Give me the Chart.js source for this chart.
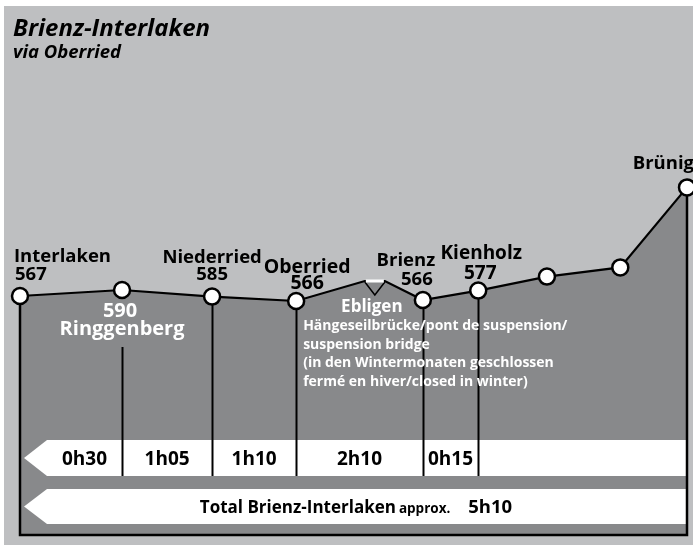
<!DOCTYPE html>
<html>
<head>
<meta charset="utf-8">
<script src="https://cdn.jsdelivr.net/npm/chart.js@4/dist/chart.umd.min.js"></script>
<style>
html,body{margin:0;padding:0;background:#fff;}
canvas{display:block;}
</style>
</head>
<body>
<canvas id="c" width="693" height="545" style="width:693px;height:545px"></canvas>
<script>
// ---- data ----
const title = 'Brienz-Interlaken';
const subtitle = 'via Oberried';
const distances = [0, 15.3, 28.8, 41.4, 51.7, 54.7, 60.4, 68.7, 79.0, 90.0, 100];
const profile   = [59.75, 61.25, 59.6, 58.5, 63.5, 63.5, 58.75, 61.1, 64.6, 66.9, 86.9];
const stationNames = ['Interlaken', 'Ringgenberg', 'Niederried', 'Oberried', '', '', 'Brienz', 'Kienholz', '', '', 'Brünig'];
const altitudes    = ['567', '590', '585', '566', '', '', '566', '577', '', '', ''];
const bridgeStart = 4;                 // bridge spans points 4..5
const bridgeName = 'Ebligen';
const bridgeNote = ['Hängeseilbrücke/pont de suspension/', 'suspension bridge', '(in den Wintermonaten geschlossen', 'fermé en hiver/closed in winter)'];
const legStations = [0, 1, 2, 3, 6, 7];
const legTimes = ['0h30', '1h05', '1h10', '2h10', '0h15'];
const totalLabel = 'Total Brienz-Interlaken';
const approxLabel = 'approx.';
const totalTime = '5h10';

// ---- styles ----
const C_PANEL = '#bebfc1', C_FILL = '#88898b';
const FONT = '"Open Sans", "Noto Sans", sans-serif';
// label placement relative to each point (px)
const labelStyle = {
  0:  {nameDx: -6, nameDy: -34, altDx: -5, altDy: -16, align: 'left', color: '#000', size: 18.5},
  1:  {nameDx: 0, nameDy: 45, altDx: -2, altDy: 27, align: 'center', color: '#fff', lineStart: 57, size: 20},
  2:  {nameDx: 0, nameDy: -34, altDx: 0, altDy: -17, align: 'center', color: '#000', size: 18.5},
  3:  {nameDx: 11, nameDy: -28, altDx: 11, altDy: -12, align: 'center', color: '#000', size: 19.5},
  6:  {nameDx: -17, nameDy: -34, altDx: -6, altDy: -15, align: 'center', color: '#000', size: 18.5},
  7:  {nameDx: 3, nameDy: -32, altDx: 2, altDy: -12, align: 'center', color: '#000', size: 19},
  10: {nameDx: 7, nameDy: -18, altDx: 0, altDy: 0, align: 'right', color: '#000', size: 18.5}
};

const bgPlugin = {
  id: 'bg',
  beforeDraw(chart) {
    const c = chart.ctx;
    c.save();
    c.fillStyle = '#fff';
    c.fillRect(0, 0, chart.width, chart.height);
    c.fillStyle = C_PANEL;
    c.fillRect(4, 6, chart.width - 4, chart.height - 6);
    c.fillStyle = '#000';
    c.textAlign = 'left';
    c.textBaseline = 'alphabetic';
    c.font = 'italic 700 24px ' + FONT;
    c.fillText(title, 13, 36);
    c.font = 'italic 700 18.5px ' + FONT;
    c.fillText(subtitle, 13, 58);
    c.restore();
  }
};

function arrowBar(c, xTip, xBody, xEnd, yTop, yBot) {
  c.beginPath();
  c.moveTo(xBody, yTop);
  c.lineTo(xEnd, yTop);
  c.lineTo(xEnd, yBot);
  c.lineTo(xBody, yBot);
  c.lineTo(xTip, (yTop + yBot) / 2);
  c.closePath();
  c.fill();
}

const overlayPlugin = {
  id: 'overlay',
  beforeDatasetsDraw(chart) {
    const c = chart.ctx, a = chart.chartArea;
    const xs = chart.scales.x, ys = chart.scales.y;
    const px = i => xs.getPixelForValue(distances[i]);
    const py = i => ys.getPixelForValue(profile[i]);
    const last = distances.length - 1;
    c.save();
    // arrow bars
    const b1t = a.bottom - 95, b1b = a.bottom - 59, b2t = a.bottom - 46, b2b = a.bottom - 11;
    const tip = a.left + 4, body = a.left + 27;
    c.fillStyle = '#fff';
    arrowBar(c, tip, body, a.right, b1t, b1b);
    arrowBar(c, tip, body, a.right, b2t, b2b);
    // vertical lines
    c.strokeStyle = '#000';
    c.lineWidth = 2;
    legStations.slice(1).forEach(i => {
      const st = labelStyle[i] && labelStyle[i].lineStart ? labelStyle[i].lineStart : 0;
      c.beginPath();
      c.moveTo(Math.round(px(i)) + 0.5, py(i) + st);
      c.lineTo(Math.round(px(i)) + 0.5, b1b);
      c.stroke();
    });
    // frame
    c.lineWidth = 2.5;
    c.beginPath();
    c.moveTo(px(0), py(0));
    c.lineTo(px(0), a.bottom);
    c.lineTo(px(last), a.bottom);
    c.lineTo(px(last), py(last));
    c.stroke();
    // bridge V symbol
    const bx0 = px(bridgeStart), bx1 = px(bridgeStart + 1), by = py(bridgeStart);
    c.lineWidth = 1.5;
    c.beginPath();
    c.moveTo(bx0, by + 1);
    c.lineTo((bx0 + bx1) / 2, by + 14);
    c.lineTo(bx1, by + 1);
    c.stroke();
    // leg times
    c.fillStyle = '#000';
    c.textAlign = 'center';
    c.textBaseline = 'alphabetic';
    c.font = '700 19px ' + FONT;
    for (let k = 0; k < legTimes.length; k++) {
      const x0 = Math.max(px(legStations[k]), body), x1 = px(legStations[k + 1]);
      c.fillText(legTimes[k], (x0 + x1) / 2, (b1t + b1b) / 2 + 7);
    }
    // total
    const ty = (b2t + b2b) / 2 + 6.5;
    const f1 = '700 17px ' + FONT, f2 = '700 13.5px ' + FONT, f3 = '700 18.5px ' + FONT;
    c.font = f1; const w1 = c.measureText(totalLabel).width;
    c.font = f2; const w2 = c.measureText(approxLabel).width;
    c.font = f3; const w3 = c.measureText(totalTime).width;
    const gap1 = 3, gap2 = 18;
    const tw = w1 + gap1 + w2 + gap2 + w3;
    let tx = (body + a.right) / 2 - 11 - tw / 2;
    c.textAlign = 'left';
    c.font = f1; c.fillText(totalLabel, tx, ty); tx += w1 + gap1;
    c.font = f2; c.fillText(approxLabel, tx, ty); tx += w2 + gap2;
    c.font = f3; c.fillText(totalTime, tx, ty);
    // station labels
    Object.keys(labelStyle).forEach(k => {
      const i = +k, s = labelStyle[i];
      c.fillStyle = s.color;
      c.textAlign = s.align;
      c.font = '700 ' + s.size + 'px ' + FONT;
      if (stationNames[i]) c.fillText(stationNames[i], px(i) + s.nameDx, py(i) + s.nameDy);
      if (altitudes[i]) c.fillText(altitudes[i], px(i) + s.altDx, py(i) + s.altDy);
    });
    // bridge labels
    c.fillStyle = '#fff';
    c.textAlign = 'center';
    c.font = '700 17px ' + FONT;
    c.fillText(bridgeName, (bx0 + bx1) / 2 - 3, by + 31);
    c.textAlign = 'left';
    c.font = '700 14px ' + FONT;
    bridgeNote.forEach((t, j) => c.fillText(t, px(3) + 7, by + 49 + j * 18.5));
    c.restore();
  },
  afterDatasetsDraw(chart) {
    // white deck of the suspension bridge
    const c = chart.ctx;
    const xs = chart.scales.x, ys = chart.scales.y;
    c.save();
    c.strokeStyle = '#fff';
    c.lineWidth = 3;
    c.beginPath();
    c.moveTo(xs.getPixelForValue(distances[bridgeStart]) + 1, ys.getPixelForValue(profile[bridgeStart]));
    c.lineTo(xs.getPixelForValue(distances[bridgeStart + 1]) - 1, ys.getPixelForValue(profile[bridgeStart + 1]));
    c.stroke();
    c.restore();
  }
};

new Chart(document.getElementById('c'), {
  type: 'line',
  data: {
    datasets: [{
      data: distances.map((d, i) => ({x: d, y: profile[i]})),
      borderColor: '#000',
      borderWidth: 2.2,
      fill: 'start',
      backgroundColor: C_FILL,
      tension: 0,
      clip: false,
      pointRadius: distances.map((d, i) => (i === bridgeStart || i === bridgeStart + 1) ? 0 : 8),
      pointBackgroundColor: '#fff',
      pointBorderColor: '#000',
      pointBorderWidth: 2.5
    }]
  },
  options: {
    responsive: false,
    animation: false,
    events: [],
    layout: {padding: {left: 20, right: 6, top: 135, bottom: 10}, autoPadding: false},
    scales: {
      x: {type: 'linear', min: 0, max: 100, display: false},
      y: {type: 'linear', min: 0, max: 100, display: false}
    },
    plugins: {
      legend: {display: false},
      tooltip: {enabled: false},
      filler: {drawTime: 'beforeDatasetsDraw'}
    }
  },
  plugins: [bgPlugin, overlayPlugin]
});
</script>
</body>
</html>
